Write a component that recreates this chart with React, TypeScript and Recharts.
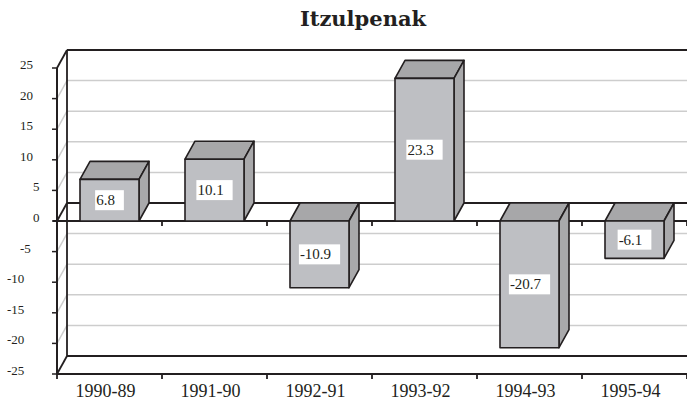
import { BarChart, Bar, XAxis, YAxis, ReferenceArea } from "recharts";

const periods = ["1990-89", "1991-90", "1992-91", "1993-92", "1994-93", "1995-94"];
const changes = [6.8, 10.1, -10.9, 23.3, -20.7, -6.1];
const yTicks = [-25, -20, -15, -10, -5, 0, 5, 10, 15, 20, 25];

const chartData = periods.map((period, i) => ({ period, change: changes[i] }));

const INK = "#231f20";
const GRID = "#cdcdcd";
const FONT = "'Liberation Serif', 'Times New Roman', serif";
// depth of the 3D box
const DX = 10;
const DY = -18;

const charW = (s: string) =>
  s.split("").reduce((w, c) => w + (c === "." ? 0.25 : c === "-" ? 0.333 : 0.5), 0);

// walls, floor, zero plane
const Frame = (props: any) => {
  const { x, y, width, height } = props;
  const yMin = yTicks[0];
  const yMax = yTicks[yTicks.length - 1];
  const py = (v: number) => y + ((yMax - v) / (yMax - yMin)) * height;
  const L = x;
  const R = x + width;
  const T = y;
  const B = y + height;
  const Z = py(0);
  const n = periods.length;
  const step = width / n;

  return (
    <g>
      {yTicks
        .filter((t) => t !== 0 && t !== yMin && t !== yMax)
        .map((t) => (
          <g key={t} stroke={GRID} strokeWidth={1.5}>
            <line x1={L + DX} y1={py(t) + DY} x2={R} y2={py(t) + DY} />
            <line x1={L} y1={py(t)} x2={L + DX} y2={py(t) + DY} />
          </g>
        ))}
      <g stroke={INK} strokeWidth={1.8} fill="none">
        <line x1={L + DX} y1={T + DY} x2={R} y2={T + DY} />
        <line x1={L + DX} y1={B + DY} x2={R} y2={B + DY} />
        <line x1={L + DX} y1={T + DY} x2={L + DX} y2={B + DY} />
        <line x1={L} y1={T} x2={L + DX} y2={T + DY} />
        <line x1={L} y1={B} x2={L + DX} y2={B + DY} />
        <line x1={L} y1={Z} x2={L + DX} y2={Z + DY} />
        <line x1={L + DX} y1={Z + DY} x2={R} y2={Z + DY} />
        <line x1={L - 4} y1={Z} x2={R} y2={Z} />
        {periods.map((_, i) => (
          <line key={"z" + i} x1={L + (i + 1) * step} y1={Z} x2={L + (i + 1) * step} y2={Z + 5} />
        ))}
        {[...periods, ""].map((_, i) => (
          <line key={"b" + i} x1={L + i * step} y1={B} x2={L + i * step} y2={B + 5} />
        ))}
      </g>
    </g>
  );
};

const Box3D = (props: any) => {
  const { x, y, width, height, payload } = props;
  const top = Math.min(y, y + height);
  const bottom = Math.max(y, y + height);
  const l = x;
  const r = x + width;
  const label = String(payload.change);
  const tw = charW(label) * 15;
  const bw = tw + 10;
  const cx = (l + r) / 2;
  const cy = (top + bottom) / 2;

  return (
    <g stroke={INK} strokeWidth={1.6} strokeLinejoin="round">
      <polygon
        points={`${l},${top} ${l + DX},${top + DY} ${r + DX},${top + DY} ${r},${top}`}
        fill="#a7a7a9"
      />
      <polygon
        points={`${r},${top} ${r + DX},${top + DY} ${r + DX},${bottom + DY} ${r},${bottom}`}
        fill="#a9a9ab"
      />
      <rect x={l} y={top} width={width} height={bottom - top} fill="#bebfc3" />
      <rect x={cx - bw / 2} y={cy - 10} width={bw} height={20} fill="#fff" stroke="none" />
      <text
        x={cx - bw / 2 + 1}
        y={cy + 5}
        fill={INK}
        stroke="none"
        fontFamily={FONT}
        fontSize={15}
      >
        {label}
      </text>
    </g>
  );
};

const YTick = (props: any) => {
  const { x, y, payload } = props;
  const s = String(payload.value);
  return (
    <text x={x - 4 - 13 * s.length} y={y + 1} fill={INK} fontFamily={FONT} fontSize={13}>
      {s}
    </text>
  );
};

const XTick = (props: any) => {
  const { x, y, payload } = props;
  return (
    <text x={x - 4} y={y + 15} textAnchor="middle" fill={INK} fontFamily={FONT} fontSize={18}>
      {payload.value}
    </text>
  );
};

export default function App() {
  return (
    <div style={{ position: "absolute", left: 0, top: 0, width: 687, height: 404, background: "#fff" }}>
      <svg width={687} height={40} style={{ position: "absolute", left: 0, top: 0 }}>
        <text
          x={363}
          y={26}
          textAnchor="middle"
          fill={INK}
          fontFamily="'DejaVu Serif', serif"
          fontWeight="bold"
          fontSize={21}
        >
          Itzulpenak
        </text>
      </svg>
      <BarChart
        width={687}
        height={404}
        data={chartData}
        margin={{ top: 68, right: 0, bottom: 0, left: 0 }}
        barSize={59}
      >
        <ReferenceArea y1={-25} y2={25} shape={<Frame />} zIndex={-50} ifOverflow="visible" />
        <XAxis
          dataKey="period"
          height={30}
          axisLine={{ stroke: INK, strokeWidth: 2 }}
          tickLine={false}
          tick={<XTick />}
          interval={0}
        />
        <YAxis
          width={57}
          domain={[-25, 25]}
          ticks={yTicks}
          interval={0}
          axisLine={{ stroke: INK, strokeWidth: 2 }}
          tickLine={{ stroke: INK, strokeWidth: 1.5 }}
          tickSize={5}
          tick={<YTick />}
        />
        <Bar dataKey="change" shape={<Box3D />} isAnimationActive={false} />
      </BarChart>
    </div>
  );
}
